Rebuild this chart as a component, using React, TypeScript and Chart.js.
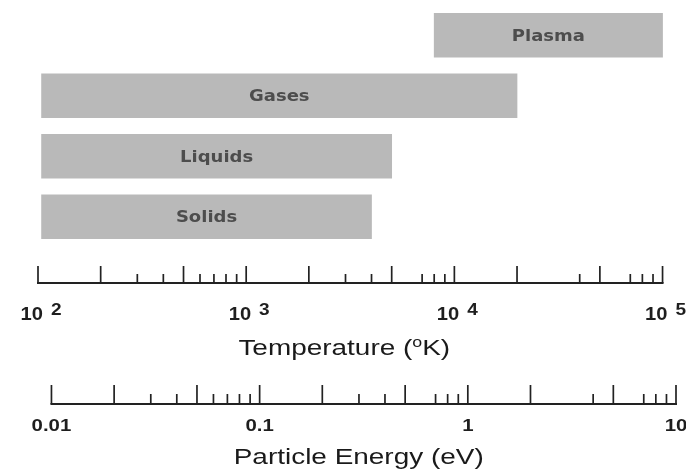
import { useEffect, useRef } from 'react';
import { Chart, registerables } from 'chart.js';

Chart.register(...registerables);

// ---- data ----
const phases = ['Plasma', 'Gases', 'Liquids', 'Solids'];
const lowK = [8000, 104, 104, 104];
const highK = [100000, 20000, 5000, 4000];

const tempMajor = [100, 1000, 10000, 100000];
const tempExponents = ['2', '3', '4', '5'];
const tempMinor = [200, 300, 400, 500, 600, 700, 800, 900, 2000, 3000, 4000, 5000, 7000, 8000, 9000, 20000, 40000, 50000, 70000, 80000, 90000];

const energyMajor = [0.01, 0.1, 1, 10];
const energyLabels = ['0.01', '0.1', '1', '10'];
const energyMinor = [0.02, 0.03, 0.04, 0.05, 0.06, 0.07, 0.08, 0.09, 0.2, 0.3, 0.4, 0.5, 0.7, 0.8, 0.9, 2, 4, 5, 7, 8, 9];

const K_PER_EV = 11604.5;

const FONT = '"Liberation Sans", Arial, sans-serif';
const HEAVY = '"DejaVu Sans", "Liberation Sans", sans-serif';

function drawText(ctx: CanvasRenderingContext2D, text: string, x: number, y: number, font: string, stretch: number, align: CanvasTextAlign, color: string) {
  ctx.save();
  ctx.translate(x, y);
  ctx.scale(stretch, 1);
  ctx.font = font;
  ctx.textAlign = align;
  ctx.textBaseline = 'alphabetic';
  ctx.fillStyle = color;
  ctx.fillText(text, 0, 0);
  ctx.restore();
}

function textWidth(ctx: CanvasRenderingContext2D, text: string, font: string, stretch: number) {
  ctx.save();
  ctx.font = font;
  const w = ctx.measureText(text).width * stretch;
  ctx.restore();
  return w;
}

function isTall(v: number) {
  const p = Math.pow(10, Math.floor(Math.log10(v) + 1e-9));
  const m = Math.round(v / p);
  return m === 1 || m === 2 || m === 5 || m === 10;
}

function drawAxis(ctx: CanvasRenderingContext2D, scale: any, majors: number[], minors: number[], yLine: number, tall: number, short: number) {
  const x0 = scale.getPixelForValue(majors[0]);
  const x1 = scale.getPixelForValue(majors[majors.length - 1]);
  ctx.save();
  ctx.strokeStyle = '#222';
  ctx.lineWidth = 2;
  ctx.beginPath();
  ctx.moveTo(x0 - 1, yLine);
  ctx.lineTo(x1 + 1, yLine);
  ctx.stroke();
  ctx.lineWidth = 1.7;
  [...majors, ...minors].forEach((v) => {
    const px = scale.getPixelForValue(v);
    const len = isTall(v) ? tall : short;
    ctx.beginPath();
    ctx.moveTo(px, yLine);
    ctx.lineTo(px, yLine - len);
    ctx.stroke();
  });
  ctx.restore();
}

const axesPlugin = {
  id: 'physAxes',
  afterDraw(chart: any) {
    const ctx: CanvasRenderingContext2D = chart.ctx;
    const xs = chart.scales.x;
    const xe = chart.scales.xE;

    // bar labels
    const meta = chart.getDatasetMeta(0);
    meta.data.forEach((bar: any, i: number) => {
      const p = bar.getProps(['x', 'base', 'y'], true);
      drawText(ctx, phases[i], (p.x + p.base) / 2, p.y + 5.5, `bold 15px ${HEAVY}`, 1.2, 'center', '#4d4d4d');
    });

    // temperature axis
    const tLine = 283;
    drawAxis(ctx, xs, tempMajor, tempMinor, tLine, 17, 9);
    const mainF = `bold 18px ${FONT}`;
    const supF = `bold 17px ${FONT}`;
    tempMajor.forEach((v, i) => {
      const px = xs.getPixelForValue(v);
      const w1 = textWidth(ctx, '10', mainF, 1.12);
      const w2 = textWidth(ctx, tempExponents[i], supF, 1.12);
      const gap = 8;
      const total = w1 + gap + w2;
      const start = px + 3 - total / 2;
      drawText(ctx, '10', start, tLine + 37, mainF, 1.12, 'left', '#1e1e1e');
      drawText(ctx, tempExponents[i], start + w1 + gap, tLine + 32, supF, 1.12, 'left', '#1e1e1e');
    });
    // temperature title
    {
      const tf = `22px ${FONT}`;
      const sf = `14px ${FONT}`;
      const st = 1.27;
      const a = 'Temperature (';
      const b = 'o';
      const c = 'K)';
      const wa = textWidth(ctx, a, tf, st);
      const wb = textWidth(ctx, b, sf, st);
      const wc = textWidth(ctx, c, tf, st);
      const mid = (xs.getPixelForValue(tempMajor[0]) + xs.getPixelForValue(tempMajor[tempMajor.length - 1])) / 2 - 6;
      const s = mid - (wa + wb + wc) / 2;
      const by = 355;
      drawText(ctx, a, s, by, tf, st, 'left', '#1a1a1a');
      drawText(ctx, b, s + wa, by - 8, sf, st, 'left', '#1a1a1a');
      drawText(ctx, c, s + wa + wb, by, tf, st, 'left', '#1a1a1a');
    }

    // energy axis
    const eLine = 404;
    drawAxis(ctx, xe, energyMajor, energyMinor, eLine, 19, 10);
    energyMajor.forEach((v, i) => {
      const px = xe.getPixelForValue(v);
      drawText(ctx, energyLabels[i], px, eLine + 27, `bold 17px ${FONT}`, 1.2, 'center', '#1e1e1e');
    });
    {
      const mid = (xe.getPixelForValue(energyMajor[0]) + xe.getPixelForValue(energyMajor[energyMajor.length - 1])) / 2 - 5;
      drawText(ctx, 'Particle Energy (eV)', mid, 464, `22px ${FONT}`, 1.27, 'center', '#1a1a1a');
    }
  },
};

export default function App() {
  const ref = useRef<HTMLCanvasElement | null>(null);
  useEffect(() => {
    if (!ref.current) return;
    const chart = new Chart(ref.current, {
      type: 'bar',
      data: {
        labels: phases,
        datasets: [
          {
            data: phases.map((_, i) => [lowK[i], highK[i]]) as any,
            backgroundColor: '#b9b9b9',
            borderWidth: 0,
            barThickness: 44,
          },
        ],
      },
      options: {
        indexAxis: 'y',
        animation: false,
        responsive: false,
        devicePixelRatio: 1,
        layout: { padding: { left: 38, right: 10, top: 5, bottom: 225 } },
        plugins: { legend: { display: false }, tooltip: { enabled: false } },
        scales: {
          x: {
            type: 'logarithmic',
            min: tempMajor[0],
            max: energyMajor[energyMajor.length - 1] * K_PER_EV,
            bounds: 'data',
            display: false,
          },
          xE: {
            type: 'logarithmic',
            axis: 'x',
            position: 'bottom',
            min: tempMajor[0] / K_PER_EV,
            max: energyMajor[energyMajor.length - 1],
            bounds: 'data',
            display: false,
          },
          y: {
            type: 'category',
            display: false,
          },
        },
      } as any,
      plugins: [axesPlugin],
    });
    return () => chart.destroy();
  }, []);
  return (
    <div style={{ position: 'fixed', left: 0, top: 0, width: 686, height: 472, background: '#fff' }}>
      <canvas ref={ref} width={686} height={472} />
    </div>
  );
}
